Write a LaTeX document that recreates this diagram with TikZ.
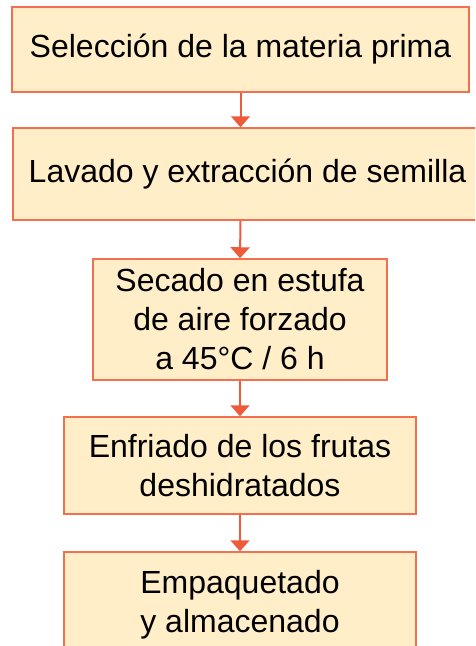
\documentclass[tikz,border=0pt]{standalone}
\usepackage{fontspec}
\setmainfont{Liberation Sans}
\usetikzlibrary{arrows.meta}
\definecolor{boxfill}{RGB}{255,238,199}
\definecolor{boxline}{RGB}{242,112,80}
\definecolor{arrowcol}{RGB}{238,90,58}
\begin{document}
\begin{tikzpicture}[x=1pt,y=-1pt,
  procbox/.style={draw=boxline,fill=boxfill,line width=1.5pt,rectangle,
    inner sep=0pt,align=center,font=\fontsize{32}{39}\selectfont},
  flow/.style={draw=arrowcol,line width=2pt,-{Triangle[width=19pt,length=11pt]}}]
\useasboundingbox (0,0) rectangle (475,646);
\clip (0,0) rectangle (475,646);
\node[procbox,minimum width=457pt,minimum height=85pt] (b1) at (240.5,49.5) {Selección de la materia prima};
\node[procbox,minimum width=469pt,minimum height=92pt] (b2) at (247.5,174) {Lavado y extracción de semilla};
\node[procbox,minimum width=294pt,minimum height=121pt] (b3) at (240,319.5) {Secado en estufa\\de aire forzado\\a 45°C / 6 h};
\node[procbox,minimum width=352pt,minimum height=97pt] (b4) at (240,465.5) {Enfriado de los frutas\\deshidratados};
\node[procbox,minimum width=352pt,minimum height=106pt] (b5) at (240,605) {Empaquetado\\y almacenado};
\draw[flow] (b1.south) -- (b1.south |- b2.north);
\draw[flow] (b2.south -| b1.south) -- (b3.north);
\draw[flow] (b3.south) -- (b4.north);
\draw[flow] (b4.south) -- (b5.north);
\end{tikzpicture}
\end{document}
